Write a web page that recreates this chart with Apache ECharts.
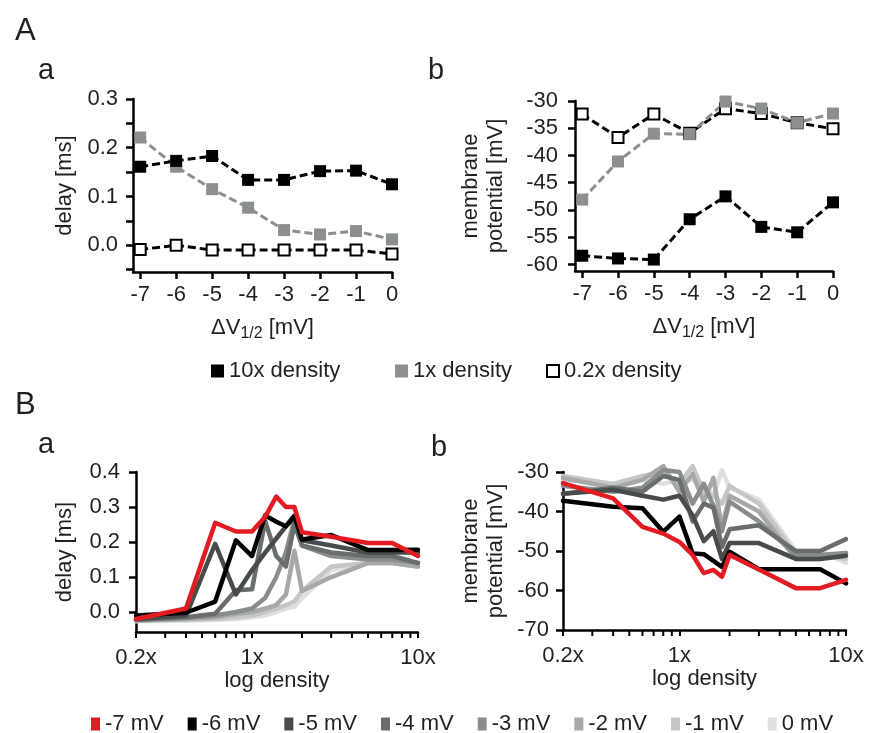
<!DOCTYPE html>
<html>
<head>
<meta charset="utf-8">
<script src="https://cdn.jsdelivr.net/npm/echarts@6/dist/echarts.min.js"></script>
<style>
html, body { margin: 0; padding: 0; background: #fff; }
#chart { width: 870px; height: 733px; }
</style>
</head>
<body>
<div id="chart"></div>
<script>
// ---- panel A : shift of V1/2 ----
var dV = [-7, -6, -5, -4, -3, -2, -1, 0];
var dVTicks = [-7, -6, -5, -4, -3, -2, -1, 0];
var delay10x = [0.161, 0.173, 0.183, 0.134, 0.134, 0.152, 0.153, 0.125];
var delay1x = [0.221, 0.161, 0.115, 0.077, 0.031, 0.022, 0.029, 0.012];
var delay02x = [-0.009, 0.0, -0.010, -0.010, -0.010, -0.010, -0.010, -0.018];
var vm10x = [-58.4, -58.9, -59.1, -51.7, -47.5, -53.1, -54.1, -48.6];
var vm1x = [-48.1, -41.1, -36.0, -36.1, -30.1, -31.4, -34.0, -32.3];
var vm02x = [-32.4, -36.7, -32.4, -35.9, -31.4, -32.3, -34.0, -35.1];
var delayATicks = [-0.05, 0, 0.05, 0.1, 0.15, 0.2, 0.25, 0.3];
var delayALabels = [0, 0.1, 0.2, 0.3];
var vmATicks = [-60, -55, -50, -45, -40, -35, -30];

// ---- panel B : channel density (log) ----
var densities = [0.2, 0.4, 0.6, 0.8, 1, 1.2, 1.4, 1.6, 1.8, 2, 3, 5, 7, 10];
var minorDensityTicks = [0.3, 0.4, 0.5, 0.6, 0.7, 0.8, 0.9, 2, 3, 4, 5, 6, 7, 8, 9];
var voltNames = ['-7 mV', '-6 mV', '-5 mV', '-4 mV', '-3 mV', '-2 mV', '-1 mV', '0 mV'];
var voltColors = ['#e31b23', '#000000', '#474c4a', '#6a6d6d', '#8a8d8e', '#a6a8a9', '#c4c6c7', '#dedfe1'];
var delayB = [
  [-0.020, 0.010, 0.255, 0.230, 0.230, 0.272, 0.330, 0.300, 0.300, 0.228, 0.215, 0.197, 0.197, 0.160],
  [-0.010, -0.002, 0.030, 0.205, 0.160, 0.276, 0.258, 0.245, 0.275, 0.207, 0.220, 0.177, 0.177, 0.178],
  [-0.020, -0.010, 0.195, 0.050, 0.120, 0.170, 0.210, 0.245, 0.270, 0.205, 0.190, 0.170, 0.170, 0.170],
  [-0.022, -0.015, -0.005, 0.062, 0.065, 0.260, 0.160, 0.130, 0.250, 0.190, 0.170, 0.160, 0.160, 0.140],
  [-0.022, -0.016, -0.010, 0.000, 0.010, 0.040, 0.100, 0.170, 0.265, 0.190, 0.160, 0.150, 0.150, 0.140],
  [-0.024, -0.020, -0.015, -0.005, 0.000, 0.010, 0.020, 0.050, 0.175, 0.060, 0.100, 0.140, 0.140, 0.130],
  [-0.025, -0.021, -0.020, -0.015, -0.010, 0.000, 0.010, 0.020, 0.030, 0.060, 0.130, 0.140, 0.140, 0.130],
  [-0.026, -0.025, -0.022, -0.020, -0.015, -0.010, 0.000, 0.010, 0.015, 0.040, 0.120, 0.140, 0.140, 0.130]
];
var potentialB = [
  [-32.8, -36.7, -43.9, -45.6, -47.7, -51.0, -55.6, -54.8, -56.5, -51.0, -54.7, -59.4, -59.4, -57.3],
  [-37.3, -38.8, -39.2, -45.1, -41.3, -50.6, -50.8, -52.5, -54.0, -50.2, -54.6, -54.6, -54.6, -58.2],
  [-35.5, -34.5, -36.0, -37.0, -36.0, -41.0, -47.5, -45.0, -52.0, -48.0, -48.0, -52.0, -52.0, -51.2],
  [-35.5, -34.0, -35.0, -31.0, -32.0, -42.5, -38.0, -39.0, -49.0, -44.5, -43.5, -50.0, -50.0, -47.0],
  [-33.5, -35.0, -34.0, -29.5, -30.0, -38.0, -33.0, -38.5, -45.0, -37.5, -42.5, -51.0, -51.0, -50.5],
  [-31.5, -34.0, -32.0, -28.5, -35.0, -30.5, -37.5, -31.5, -44.0, -36.0, -40.0, -52.0, -52.0, -50.5],
  [-31.0, -33.0, -31.0, -30.0, -33.0, -28.5, -35.0, -36.0, -38.0, -33.5, -38.0, -51.0, -51.0, -52.0],
  [-32.0, -33.0, -32.0, -33.0, -32.0, -32.0, -33.0, -36.0, -29.5, -34.0, -37.0, -50.0, -50.0, -53.0]
];
var delayBLabels = [0, 0.1, 0.2, 0.3, 0.4];
var vmBLabels = [-70, -60, -50, -40, -30];

var FONT = '"Liberation Sans", Arial, sans-serif';
var TXT = '#231f20';
var GRAY = '#8c8f90';
var FS = 22;

var chart = echarts.init(document.getElementById('chart'), null, { renderer: 'canvas' });

var axLine = { show: true, onZero: false, lineStyle: { color: '#000', width: 2.5 } };
var txt = function (size) { return { fontSize: size, color: TXT, fontFamily: FONT }; };

function dvAxis(gi) {
  return {
    type: 'value', gridIndex: gi, min: -7.2, max: 0,
    axisLine: axLine,
    axisTick: { show: true, customValues: dVTicks, length: 7, lineStyle: { color: '#000', width: 2.5 } },
    axisLabel: Object.assign({ customValues: dVTicks, margin: 12 }, txt(FS)),
    splitLine: { show: false },
    name: '{t|ΔV}{s|1/2}{t| [mV]}', nameLocation: 'middle', nameGap: 42,
    nameTextStyle: Object.assign(txt(FS), {
      rich: { t: txt(FS), s: Object.assign(txt(16), { padding: [12, 0, 0, 0] }) }
    })
  };
}

function logAxis(gi) {
  return {
    type: 'log', logBase: 10, gridIndex: gi, min: 0.2, max: 10,
    axisLine: axLine,
    axisTick: { show: true, length: 6, lineStyle: { color: '#000', width: 2 } },
    axisLabel: Object.assign({ margin: 15, formatter: function (v) { return (+(+v).toPrecision(3)) + 'x'; } }, txt(FS)),
    splitLine: { show: false },
    minorTick: { show: false },
    name: 'log density', nameLocation: 'middle', nameGap: 36, nameTextStyle: txt(FS)
  };
}

function yAxisOpt(gi, min, max, ticks, labels, fmt, name, gap, margin) {
  return {
    type: 'value', gridIndex: gi, min: min, max: max,
    axisLine: axLine,
    axisTick: { show: true, customValues: ticks, length: 7, lineStyle: { color: '#000', width: 2.5 } },
    axisLabel: Object.assign({ customValues: labels, margin: margin, formatter: fmt }, txt(FS)),
    splitLine: { show: false },
    name: name, nameLocation: 'middle', nameGap: gap,
    nameTextStyle: Object.assign(txt(FS), { lineHeight: 25 })
  };
}

function aSeries(name, vals, gi, lineCol, fill, border) {
  return {
    type: 'line', name: name, xAxisIndex: gi, yAxisIndex: gi,
    data: dV.map(function (x, i) { return [x, vals[i]]; }),
    symbol: 'rect', symbolSize: border ? 11 : 12, showSymbol: true,
    color: fill,
    lineStyle: { color: lineCol, width: 3, type: [8, 4] },
    itemStyle: { color: fill, borderColor: lineCol, borderWidth: border ? 2 : 0 },
    clip: false, animation: false
  };
}

function bSeries(gi, table) {
  var out = [];
  for (var k = voltNames.length - 1; k >= 0; k--) {
    out.push({
      type: 'line', name: voltNames[k], xAxisIndex: gi, yAxisIndex: gi,
      data: densities.map(function (d, i) { return [d, table[k][i]]; }),
      showSymbol: false, symbol: 'none', color: voltColors[k],
      lineStyle: { color: voltColors[k], width: 4.5, join: 'round', cap: 'round' },
      z: 2 + (voltNames.length - k) * 0.01,
      clip: false, animation: false
    });
  }
  return out;
}

function minorTickSeries(gi, yMin) {
  return {
    type: 'custom', name: 'ticks' + gi, xAxisIndex: gi, yAxisIndex: gi,
    data: minorDensityTicks.map(function (v) { return [v, yMin]; }),
    renderItem: function (params, api) {
      var p = api.coord([api.value(0), api.value(1)]);
      return { type: 'line', shape: { x1: p[0], y1: p[1], x2: p[0], y2: p[1] + 6 }, style: { stroke: '#000', lineWidth: 2 } };
    },
    silent: true, clip: false, animation: false, z: 5
  };
}

var legendText = txt(FS);
var titleStyle = function (s) { return { fontSize: s, fontWeight: 'normal', color: TXT, fontFamily: FONT }; };

var option = {
  backgroundColor: '#fff',
  animation: false,
  title: [
    { text: 'A', left: 10, top: 11, textStyle: titleStyle(31) },
    { text: 'a', left: 33, top: 51, textStyle: titleStyle(29) },
    { text: 'b', left: 423, top: 51, textStyle: titleStyle(29) },
    { text: 'B', left: 10, top: 385, textStyle: titleStyle(31) },
    { text: 'a', left: 33, top: 425, textStyle: titleStyle(29) },
    { text: 'b', left: 426, top: 428, textStyle: titleStyle(29) }
  ],
  grid: [
    { left: 133, top: 99, width: 259, height: 173 },
    { left: 575, top: 101, width: 258, height: 170 },
    { left: 136, top: 472, width: 282, height: 160 },
    { left: 563, top: 472, width: 283, height: 158 }
  ],
  xAxis: [dvAxis(0), dvAxis(1), logAxis(2), logAxis(3)],
  yAxis: [
    yAxisOpt(0, -0.055, 0.3, delayATicks, delayALabels, function (v) { return (+v).toFixed(1); }, 'delay [ms]', 56, 15),
    yAxisOpt(1, -61.2, -30, vmATicks, vmATicks, function (v) { return String(v); }, 'membrane\npotential [mV]', 67, 17),
    yAxisOpt(2, -0.057, 0.4, delayBLabels, delayBLabels, function (v) { return (+v).toFixed(1); }, 'delay [ms]', 59, 16),
    yAxisOpt(3, -70, -30, vmBLabels, vmBLabels, function (v) { return String(v); }, 'membrane\npotential [mV]', 55, 14)
  ],
  legend: [
    { left: 206, top: 355, selectedMode: false, itemWidth: 13, itemHeight: 13, textStyle: legendText,
      data: [{ name: '10x density', icon: 'rect', itemStyle: { color: '#000', borderWidth: 0 } }] },
    { left: 390, top: 355, selectedMode: false, itemWidth: 13, itemHeight: 13, textStyle: legendText,
      data: [{ name: '1x density', icon: 'rect', itemStyle: { color: GRAY, borderWidth: 0 } }] },
    { left: 541, top: 355, selectedMode: false, itemWidth: 12, itemHeight: 12, textStyle: legendText,
      data: [{ name: '0.2x density', icon: 'rect', itemStyle: { color: '#fff', borderColor: '#000', borderWidth: 2 } }] },
    { left: 86, top: 708, selectedMode: false, itemWidth: 9, itemHeight: 13, itemGap: 24, textStyle: legendText,
      data: voltNames.map(function (n, i) { return { name: n, icon: 'rect', itemStyle: { color: voltColors[i], borderWidth: 0 } }; }) }
  ],
  series: [].concat(
    [aSeries('0.2x density', delay02x, 0, '#000', '#fff', true),
     aSeries('1x density', delay1x, 0, GRAY, GRAY, false),
     aSeries('10x density', delay10x, 0, '#000', '#000', false),
     aSeries('0.2x density', vm02x, 1, '#000', '#fff', true),
     aSeries('1x density', vm1x, 1, GRAY, GRAY, false),
     aSeries('10x density', vm10x, 1, '#000', '#000', false)],
    bSeries(2, delayB),
    bSeries(3, potentialB),
    [minorTickSeries(2, -0.057), minorTickSeries(3, -70)]
  )
};

chart.setOption(option);
</script>
</body>
</html>
